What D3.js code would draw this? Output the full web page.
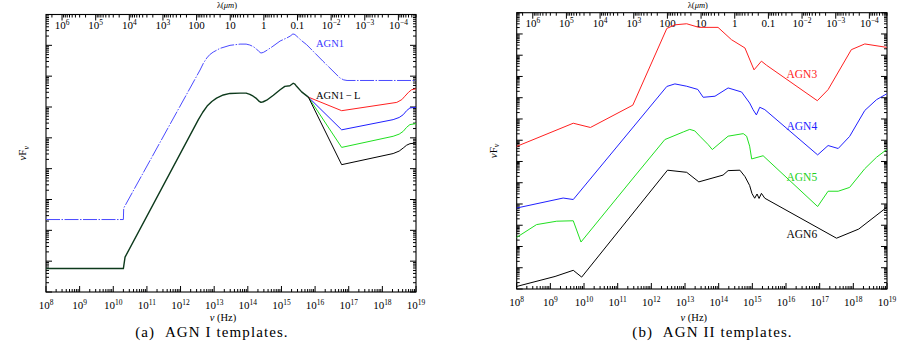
<!DOCTYPE html>
<html><head><meta charset="utf-8">
<script src="https://cdn.jsdelivr.net/npm/d3@7"></script>
<style>body{margin:0;background:#fff}svg{display:block}text{font-family:"Liberation Serif","DejaVu Serif",serif}</style>
</head><body><svg id="c" width="899" height="343"></svg>
<script>
// ---------- tick data ----------
const nuTickExps = [8,9,10,11,12,13,14,15,16,17,18,19];
const lambdaTickValues = [1e6,1e5,1e4,1e3,100,10,1,0.1,1e-2,1e-3,1e-4];
const lambdaTickLabels = ["10^6","10^5","10^4","10^3","100","10","1","0.1","10^\u22122","10^\u22123","10^\u22124"];
const C_MICRON = 2.998e14; // nu = c / lambda(um)

// ---------- panel (a): [log10 nu, log10 nuFnu] ----------
const agn1 = [[8.00,2.35],[10.30,2.35],[10.31,2.72],[12.58,7.20],[12.68,7.42],[12.78,7.59],[12.87,7.70],[12.97,7.78],[13.17,7.90],[13.47,8.00],[13.77,8.04],[13.95,8.04],[14.06,8.01],[14.16,7.96],[14.24,7.90],[14.32,7.81],[14.39,7.75],[14.46,7.77],[14.54,7.82],[14.72,7.95],[14.96,8.14],[15.16,8.24],[15.26,8.30],[15.34,8.37],[15.40,8.35],[15.46,8.29],[15.60,8.15],[15.75,8.02],[16.23,7.49],[16.74,6.94],[16.85,6.88],[16.95,6.86],[19.00,6.86]];
const agn1LCommon = [[8.00,0.76],[10.30,0.76],[10.35,1.13],[12.53,5.59],[12.66,5.83],[12.79,6.03],[12.93,6.18],[13.07,6.29],[13.27,6.39],[13.47,6.44],[13.77,6.45],[13.95,6.45],[14.06,6.41],[14.16,6.35],[14.24,6.29],[14.32,6.20],[14.39,6.15],[14.46,6.17],[14.56,6.22],[14.76,6.38],[14.96,6.56],[15.10,6.67],[15.25,6.69],[15.35,6.77],[15.40,6.74],[15.45,6.67],[15.60,6.49],[15.80,6.32]];
const agn1LRedTail   = [[15.80,6.32],[16.79,5.88],[18.43,6.15],[18.58,6.24],[18.67,6.35],[18.78,6.48],[18.87,6.56],[19.00,6.59]];
const agn1LBlueTail  = [[15.80,6.32],[16.79,5.26],[18.32,5.59],[18.50,5.66],[18.62,5.75],[18.72,5.88],[18.82,5.97],[19.00,5.99]];
const agn1LGreenTail = [[15.80,6.32],[16.79,4.69],[18.32,5.05],[18.50,5.12],[18.62,5.21],[18.72,5.34],[18.82,5.43],[19.00,5.46]];
const agn1LBlackTail = [[15.80,6.32],[16.79,4.13],[18.32,4.49],[18.50,4.57],[18.62,4.67],[18.72,4.76],[18.82,4.81],[19.00,4.83]];

// ---------- panel (b) ----------
const agn3 = [[8.00,6.71],[9.68,7.80],[10.19,7.60],[11.45,8.65],[12.46,12.26],[12.70,12.43],[13.05,12.48],[13.41,12.31],[13.98,12.31],[14.38,11.73],[14.78,11.34],[15.05,10.31],[15.27,10.72],[15.42,10.53],[16.93,8.86],[17.25,9.38],[17.94,11.26],[18.34,11.53],[18.99,11.37]];
const agn4 = [[8.00,3.81],[9.38,4.28],[9.68,4.21],[12.46,9.53],[12.70,9.65],[13.05,9.54],[13.38,9.39],[13.54,9.02],[13.89,9.07],[14.28,9.46],[14.68,9.27],[14.92,8.75],[15.02,8.44],[15.12,8.19],[15.22,8.55],[15.37,8.44],[16.94,6.31],[17.25,6.75],[17.55,6.61],[17.89,7.18],[18.34,8.40],[18.69,8.91],[18.99,9.18]];
const agn5 = [[8.00,2.43],[8.59,3.03],[9.19,3.19],[9.68,3.21],[9.91,2.21],[11.46,5.22],[12.40,7.03],[12.95,7.39],[13.14,7.51],[13.29,7.44],[13.44,7.19],[13.69,6.79],[13.81,6.56],[13.98,6.79],[14.28,7.19],[14.73,7.31],[14.83,7.19],[14.92,6.72],[14.98,6.12],[15.32,6.27],[16.94,3.88],[17.25,4.60],[17.55,4.60],[17.89,4.78],[18.34,5.66],[18.69,6.20],[18.99,6.56]];
const agn6 = [[8.00,0.12],[9.14,0.59],[9.68,0.88],[9.93,0.56],[12.48,5.59],[13.05,5.49],[13.41,5.04],[14.13,5.36],[14.28,5.57],[14.63,5.59],[14.78,5.29],[14.92,4.87],[14.99,4.49],[15.07,4.27],[15.14,4.47],[15.20,4.26],[15.27,4.50],[15.37,4.27],[17.50,2.39],[18.16,2.82],[18.99,3.84]];

const svg = d3.select("#c");

function superLabel(g, x, y, label, size, rise) {
  const t = g.append("text").attr("x", x).attr("y", y)
    .attr("text-anchor", "middle").attr("font-size", size).attr("fill", "#000");
  const m = label.match(/^10\^(.+)$/);
  if (m) {
    t.append("tspan").text("10");
    t.append("tspan").attr("dy", -rise).attr("font-size", size * 0.68).text(m[1]);
  } else t.text(label);
}

function panel(cfg) {
  const g = svg.append("g");
  const x = d3.scaleLog().domain([1e8, 1e19]).range([cfg.x0, cfg.x1]);
  const y = d3.scaleLog().domain([1, Math.pow(10, cfg.decades)]).range([cfg.y1, cfg.y0]);
  const maj = 6, min = 3;
  const tk = g.append("g").attr("stroke", "#000").attr("stroke-width", 1);
  for (let e = 8; e <= 19; e++) {
    for (let k = 1; k <= 9; k++) {
      const v = k * Math.pow(10, e);
      if (v > 1e19) break;
      const px = x(v), L = k === 1 ? maj : min;
      tk.append("line").attr("x1", px).attr("x2", px).attr("y1", cfg.y1).attr("y2", cfg.y1 - L);
    }
  }
  for (let e = -5; e <= 7; e++) {
    for (let k = 1; k <= 9; k++) {
      const nu = C_MICRON / (k * Math.pow(10, e));
      if (nu < 1e8 || nu > 1e19) continue;
      const px = x(nu), L = k === 1 ? maj : min;
      tk.append("line").attr("x1", px).attr("x2", px).attr("y1", cfg.y0).attr("y2", cfg.y0 + L);
    }
  }
  for (let e = 0; e <= cfg.decades; e++) {
    for (let k = 1; k <= 9; k++) {
      const v = k * Math.pow(10, e);
      if (v > Math.pow(10, cfg.decades)) break;
      const py = y(v), L = k === 1 ? maj : min;
      tk.append("line").attr("x1", cfg.x0).attr("x2", cfg.x0 + L).attr("y1", py).attr("y2", py);
      tk.append("line").attr("x1", cfg.x1).attr("x2", cfg.x1 - L).attr("y1", py).attr("y2", py);
    }
  }
  g.append("rect").attr("x", cfg.x0).attr("y", cfg.y0).attr("width", cfg.x1 - cfg.x0)
    .attr("height", cfg.y1 - cfg.y0).attr("fill", "none").attr("stroke", "#000").attr("stroke-width", 1.1);
  nuTickExps.forEach(e => superLabel(g, x(Math.pow(10, e)), cfg.y1 + 16.5, "10^" + e, 11, 4));
  lambdaTickValues.forEach((lam, i) => superLabel(g, x(C_MICRON / lam), cfg.y0 + 14, lambdaTickLabels[i], 11, 3.5));
  const cx = (cfg.x0 + cfg.x1) / 2;
  const lt = g.append("text").attr("x", cx - 4).attr("y", 8).attr("text-anchor", "middle").attr("font-size", 8.5);
  lt.append("tspan").text("\u03bb(");
  lt.append("tspan").attr("font-style", "italic").text("\u03bcm");
  lt.append("tspan").text(")");
  const nt = g.append("text").attr("x", cx - 8).attr("y", 320.5).attr("text-anchor", "middle").attr("font-size", 10.5);
  nt.append("tspan").attr("font-style", "italic").text("\u03bd");
  nt.append("tspan").text("\u00a0(Hz)");
  const yl = g.append("text").attr("transform", `translate(${cfg.x0 - 20},${(cfg.y0 + cfg.y1) / 2}) rotate(-90)`)
    .attr("text-anchor", "middle").attr("font-size", 11);
  yl.append("tspan").attr("font-style", "italic").text("\u03bd");
  yl.append("tspan").text("F");
  yl.append("tspan").attr("dy", 2.5).attr("font-size", 8).attr("font-style", "italic").text("\u03bd");
  g.append("text").attr("x", cfg.capX).attr("y", 337).attr("text-anchor", "middle")
    .attr("font-size", 15).attr("letter-spacing", 1.1).text(cfg.caption);
  const line = d3.line().x(d => x(Math.pow(10, d[0]))).y(d => y(Math.pow(10, d[1])));
  return { g, x, y, line };
}

// ---------- panel a ----------
const A = panel({ x0: 46, x1: 416, y0: 14.5, y1: 292, decades: 9, capX: 212, caption: "(a)\u00a0\u00a0AGN I templates." });
[[agn1LRedTail, "#ff2020"], [agn1LBlueTail, "#2020ff"], [agn1LGreenTail, "#20e020"], [agn1LBlackTail, "#000"]]
  .forEach(([d, c]) => A.g.append("path").attr("d", A.line(d)).attr("fill", "none").attr("stroke", c).attr("stroke-width", 1));
A.g.append("path").attr("d", A.line(agn1LCommon)).attr("fill", "none").attr("stroke", "#0d3a1c").attr("stroke-width", 1.4).attr("stroke-linejoin", "round");
A.g.append("path").attr("d", A.line(agn1)).attr("fill", "none").attr("stroke", "#4a4aff")
  .attr("stroke-width", 1).attr("stroke-dasharray", "14,1.5,1.5,1.5");
A.g.append("text").attr("x", 316).attr("y", 47).attr("font-size", 10.5).attr("fill", "#3a3aff").text("AGN1");
A.g.append("text").attr("x", 316).attr("y", 99).attr("font-size", 10.5).attr("fill", "#000").text("AGN1\u2009\u2212\u2009L");

// ---------- panel b ----------
const B = panel({ x0: 516.7, x1: 887, y0: 12.7, y1: 289, decades: 13, capX: 712.5, caption: "(b)\u00a0\u00a0AGN II templates." });
[[agn3, "#ff2020"], [agn4, "#2020ff"], [agn5, "#20e020"], [agn6, "#000"]]
  .forEach(([d, c]) => B.g.append("path").attr("d", B.line(d)).attr("fill", "none").attr("stroke", c).attr("stroke-width", 1));
[["AGN3", 77.5, "#ff2020"], ["AGN4", 130, "#2020ff"], ["AGN5", 181, "#20d020"], ["AGN6", 237.5, "#000"]]
  .forEach(([t, yy, c]) => B.g.append("text").attr("x", 786.5).attr("y", yy).attr("font-size", 11.5).attr("fill", c).text(t));
</script></body></html>
